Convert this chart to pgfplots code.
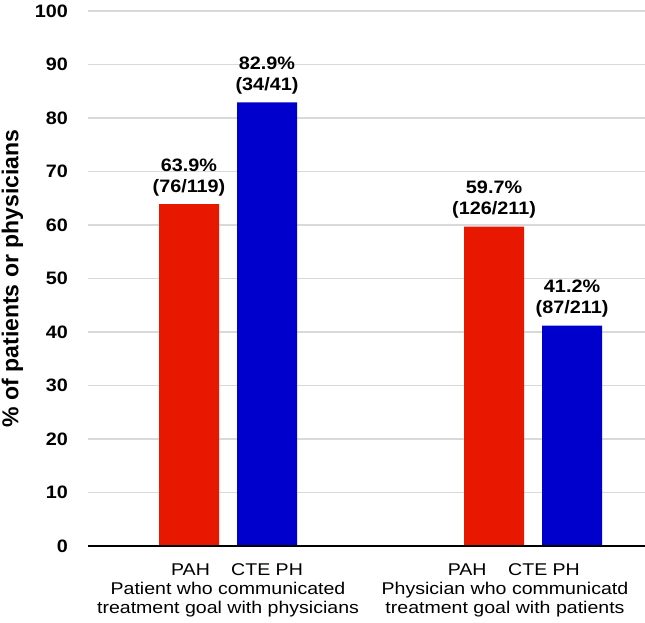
\documentclass[border=0pt]{standalone}
\usepackage{fontspec}
\setmainfont{Liberation Sans}
\newfontfamily\widefont{Liberation Sans}[FakeStretch=1.1]
\newfontfamily\catfont{Liberation Sans}[FakeStretch=1.15]
\usepackage{pgfplots}
\pgfplotsset{compat=1.18}
\usetikzlibrary{calc}
\definecolor{pahred}{RGB}{232,24,0}
\definecolor{ctblue}{RGB}{0,0,204}
\definecolor{gridgray}{RGB}{217,217,217}
\begin{document}
\begin{tikzpicture}
\begin{axis}[
  scale only axis,
  width=557pt, height=535pt,
  xmin=-0.459, xmax=1.367,
  ymin=0, ymax=100,
  ytick={0,10,...,100},
  xtick={-0.123,0.128,0.784,1.036},
  xticklabels={PAH,CTE PH,PAH,CTE PH},
  axis line style={draw=none},
  major tick length=0pt,
  ymajorgrids,
  grid style={gridgray, line width=1.3pt},
  /pgf/number format/assume math mode=true,
  yticklabel style={font=\widefont\bfseries\fontsize{18}{20}\selectfont, anchor=east, inner sep=0pt, xshift=-20pt},
  xticklabel style={font=\catfont\fontsize{17}{19}\selectfont, anchor=base, inner sep=0pt, yshift=-29pt},
  ybar=18pt,
  bar width=60pt,
  nodes near coords,
  point meta=explicit symbolic,
  every node near coord/.append style={font=\widefont\bfseries\fontsize{18}{21}\selectfont, align=center, inner sep=0pt, yshift=8pt},
  clip=false,
]
\addplot[fill=pahred, draw=none] coordinates {
  (0,63.9) [{63.9\%\\(76/119)}]
  (1,59.7) [{59.7\%\\(126/211)}]
};
\addplot[fill=ctblue, draw=none] coordinates {
  (0,82.9) [{82.9\%\\(34/41)}]
  (1,41.2) [{41.2\%\\(87/211)}]
};
\draw[black, line width=1.8pt] (rel axis cs:0,0) -- (rel axis cs:1,0);
\node[font=\catfont\fontsize{17}{19}\selectfont, anchor=base, inner sep=0pt, yshift=-48pt] at (axis cs:0,0) {Patient who communicated};
\node[font=\catfont\fontsize{17}{19}\selectfont, anchor=base, inner sep=0pt, yshift=-67.5pt] at (axis cs:0,0) {treatment goal with physicians};
\node[font=\catfont\fontsize{17}{19}\selectfont, anchor=base, inner sep=0pt, yshift=-48pt] at (axis cs:0.908,0) {Physician who communicatd};
\node[font=\catfont\fontsize{17}{19}\selectfont, anchor=base, inner sep=0pt, yshift=-67.5pt] at (axis cs:0.908,0) {treatment goal with patients};
\end{axis}
\node[rotate=90, inner sep=0pt, font=\bfseries\fontsize{23}{25}\selectfont] at ($(current axis.west)+(-75.5pt,0)$) {\% of patients or physicians};
\pgfresetboundingbox
\path[use as bounding box] ($(current axis.south west)+(-88pt,-76pt)$) rectangle ($(current axis.north east)+(0,11pt)$);
\end{tikzpicture}
\end{document}
